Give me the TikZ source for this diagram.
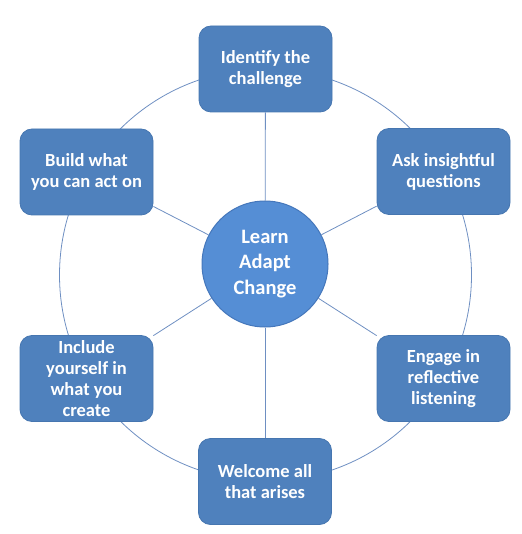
\documentclass[tikz,border=0pt]{standalone}
\usepackage{fontspec}
\setmainfont{Carlito}
\definecolor{boxblue}{HTML}{4F81BD}
\definecolor{boxedge}{HTML}{4676B0}
\definecolor{circblue}{HTML}{558ED5}
\definecolor{circedge}{HTML}{4577BB}
\definecolor{ringcol}{HTML}{6E8FC2}
\begin{document}
\begin{tikzpicture}[x=1pt,y=-1pt,
  item/.style={draw=boxedge, fill=boxblue, line width=0.8pt, rounded corners=12pt,
    minimum width=133pt, minimum height=86pt, align=center, text=white,
    font=\fontsize{18.5}{21}\selectfont\bfseries, inner sep=2pt},
  hub/.style={circle, draw=circedge, fill=circblue, line width=1pt, minimum size=126pt,
    align=center, text=white, font=\fontsize{20.5}{25.5}\selectfont\bfseries, inner sep=0pt},
  link/.style={draw=ringcol, line width=0.8pt}]
\useasboundingbox (0,0) rectangle (521,534);
\coordinate (ringc) at (265.5,275);
\draw[link] (ringc) circle[radius=206];
\node[hub] (c) at (265,264) {Learn\\Adapt\\Change};
\node[item] (n1) at (265.5,69) {Identify the\\challenge};
\node[item] (n2) at (443.5,171.5) {Ask insightful\\questions};
\node[item] (n3) at (443.5,378.5) {Engage in\\reflective\\listening};
\node[item] (n4) at (265,481.5) {Welcome all\\that arises};
\node[item] (n5) at (86.5,378.5) {Include\\yourself in\\what you\\create};
\node[item] (n6) at (86.5,172) {Build what\\you can act on};
\foreach \n in {n1,n2,n3,n4,n5,n6}{\draw[link] (c) -- (\n);}
\end{tikzpicture}
\end{document}
